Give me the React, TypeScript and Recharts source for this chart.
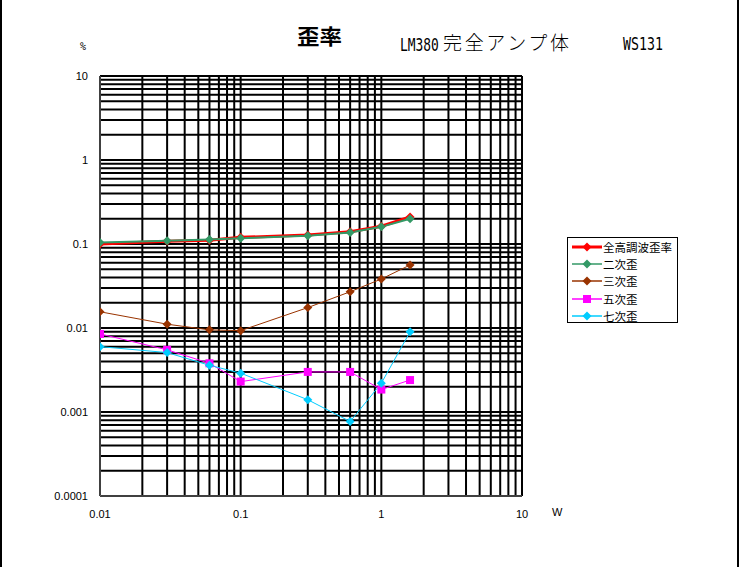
import React from 'react';
import { LineChart, Line, XAxis, YAxis, ReferenceLine, ReferenceArea } from 'recharts';

const xValues = [0.01, 0.03, 0.06, 0.1, 0.3, 0.6, 1, 1.6];
const totalHd = [0.1, 0.108, 0.111, 0.12, 0.128, 0.14, 0.163, 0.21];
const h2 = [0.104, 0.109, 0.113, 0.117, 0.125, 0.137, 0.16, 0.2];
const h3 = [0.0156, 0.0111, 0.0095, 0.0093, 0.0175, 0.027, 0.0383, 0.0562];
const h5 = [0.0085, 0.0055, 0.0038, 0.0023, 0.003, 0.003, 0.00185, 0.0024];
const h7 = [0.006, 0.0051, 0.0036, 0.0029, 0.0014, 0.00077, 0.0022, 0.009];

const xTicks = [0.01, 0.1, 1, 10];
const xTickLabels = ['0.01', '0.1', '1', '10'];
const yTicks = [0.0001, 0.001, 0.01, 0.1, 1, 10];
const yTickLabels = ['0.0001', '0.001', '0.01', '0.1', '1', '10'];
const mantissas = [1, 2, 3, 4, 5, 6, 7, 8, 9];
const xDecades = [0.01, 0.1, 1];
const yDecades = [0.0001, 0.001, 0.01, 0.1, 1];

const titleMain = '歪率';
const titleModelLatin = 'LM380';
const titleModelCjk = '完全アンプ体';
const titleCode = 'WS131';
const yUnit = '%';
const xUnit = 'W';

const seriesNames = ['全高調波歪率', '二次歪', '三次歪', '五次歪', '七次歪'];
const seriesKeys = ['total', 'h2', 'h3', 'h5', 'h7'];
const seriesColors = ['#FF0000', '#339966', '#993300', '#FF00FF', '#00CCFF'];
const seriesWidths = [3, 2, 1, 1, 1];
const seriesShapes = ['diamond', 'diamond', 'diamond', 'square', 'diamond'];

const xGrid: number[] = [];
xDecades.forEach((d) => mantissas.forEach((m) => xGrid.push(+(d * m).toPrecision(6))));
xGrid.push(10);
const yGrid: number[] = [];
yDecades.forEach((d) => mantissas.forEach((m) => yGrid.push(+(d * m).toPrecision(6))));
yGrid.push(10);

const data = xValues.map((x, i) => ({
  x,
  total: totalHd[i],
  h2: h2[i],
  h3: h3[i],
  h5: h5[i],
  h7: h7[i],
}));

const makeDot = (color: string, shape: string) => (props: any) => {
  const { cx, cy, key } = props;
  if (cx == null || cy == null) return <g key={key} />;
  if (shape === 'square') {
    return <rect key={key} x={cx - 4} y={cy - 4} width={8} height={8} fill={color} />;
  }
  return (
    <path
      key={key}
      d={`M${cx},${cy - 4.5} L${cx + 4.5},${cy} L${cx},${cy + 4.5} L${cx - 4.5},${cy} Z`}
      fill={color}
    />
  );
};

const LegendMarker = ({ color, shape, width }: { color: string; shape: string; width: number }) => (
  <svg width={30} height={12} style={{ display: 'block' }}>
    <line x1={0} y1={6} x2={30} y2={6} stroke={color} strokeWidth={width === 3 ? 3 : 1.5} />
    {shape === 'square' ? (
      <rect x={11} y={2} width={8} height={8} fill={color} />
    ) : (
      <path d="M15,1.5 L19.5,6 L15,10.5 L10.5,6 Z" fill={color} />
    )}
  </svg>
);

export default function App() {
  return (
    <div
      style={{
        position: 'absolute',
        left: 0,
        top: 0,
        width: 739,
        height: 567,
        background: '#fff',
        boxSizing: 'border-box',
        borderLeft: '2px solid #000',
        borderRight: '2px solid #000',
        fontFamily: "'Liberation Sans', Arial, sans-serif",
      }}
    >
      <div style={{ position: 'absolute', left: -2, top: 0 }}>
        <LineChart
          width={739}
          height={567}
          data={data}
          margin={{ top: 76, right: 217, bottom: 41, left: 0 }}
        >
          <XAxis
            dataKey="x"
            type="number"
            scale="log"
            domain={[0.01, 10]}
            ticks={xTicks}
            allowDataOverflow
            tickFormatter={(v: number) => xTickLabels[xTicks.indexOf(v)] ?? String(v)}
            tickLine={false}
            tickSize={0}
            tickMargin={14}
            axisLine={{ stroke: '#808080', strokeWidth: 1 }}
            tick={{ fontSize: 11, fill: '#000', fontFamily: "'Liberation Sans', Arial" }}
            height={30}
            interval={0}
          />
          <YAxis
            type="number"
            scale="log"
            domain={[0.0001, 10]}
            ticks={yTicks}
            allowDataOverflow
            tickFormatter={(v: number) => yTickLabels[yTicks.indexOf(v)] ?? String(v)}
            tickLine={false}
            tickSize={0}
            tickMargin={12}
            axisLine={{ stroke: '#808080', strokeWidth: 1 }}
            tick={{ fontSize: 11, fill: '#000', fontFamily: "'Liberation Sans', Arial" }}
            width={100}
            interval={0}
          />
          {xGrid.map((v) => (
            <ReferenceLine key={'vx' + v} x={v} stroke="#000" strokeWidth={2} />
          ))}
          {yGrid.map((v) => (
            <ReferenceLine key={'hy' + v} y={v} stroke="#000" strokeWidth={2} />
          ))}
          <ReferenceArea x1={0.01} x2={10} y1={0.0001} y2={10} fill="none" stroke="#808080" strokeWidth={1} />
          {seriesKeys.map((k, i) => (
            <Line
              key={k}
              dataKey={k}
              stroke={seriesColors[i]}
              strokeWidth={seriesWidths[i]}
              dot={makeDot(seriesColors[i], seriesShapes[i])}
              activeDot={false}
              isAnimationActive={false}
              type="linear"
            />
          ))}
        </LineChart>
      </div>

      <svg
        width={739}
        height={70}
        style={{ position: 'absolute', left: -2, top: 0, overflow: 'visible' }}
      >
        <text
          x={297}
          y={44}
          fontSize={21}
          fontWeight="bold"
          fontFamily="'Noto Sans CJK JP'"
          textLength={45}
          lengthAdjust="spacingAndGlyphs"
        >
          {titleMain}
        </text>
        <text
          transform="translate(400,51) scale(0.76,1)"
          x={0}
          y={0}
          fontSize={17}
          fontFamily="'DejaVu Sans Mono'"
        >
          {titleModelLatin}
        </text>
        <text
          x={443}
          y={50}
          fontSize={19}
          fontFamily="'Noto Sans CJK JP'"
          fontWeight={300}
          textLength={126}
          lengthAdjust="spacing"
        >
          {titleModelCjk}
        </text>
        <text
          transform="translate(623,50) scale(0.78,1)"
          x={0}
          y={0}
          fontSize={17}
          fontFamily="'DejaVu Sans Mono'"
        >
          {titleCode}
        </text>
        <text x={80} y={50} fontSize={10} fontFamily="'DejaVu Sans Mono'">
          {yUnit}
        </text>
      </svg>

      <div style={{ position: 'absolute', left: 550, top: 505, fontSize: 11, lineHeight: '14px' }}>{xUnit}</div>

      <div
        style={{
          position: 'absolute',
          left: 565,
          top: 237,
          width: 111,
          height: 86,
          boxSizing: 'border-box',
          border: '1px solid #000',
          paddingTop: 0,
        }}
      >
        {seriesNames.map((n, i) => (
          <div
            key={n}
            style={{ display: 'flex', alignItems: 'center', height: 17.4, paddingLeft: 4 }}
          >
            <LegendMarker color={seriesColors[i]} shape={seriesShapes[i]} width={seriesWidths[i]} />
            <span
              style={{
                marginLeft: 1,
                fontSize: 11.5,
                fontFamily: "'Noto Sans CJK JP'",
                lineHeight: '14px',
                whiteSpace: 'nowrap',
              }}
            >
              {n}
            </span>
          </div>
        ))}
      </div>
    </div>
  );
}
